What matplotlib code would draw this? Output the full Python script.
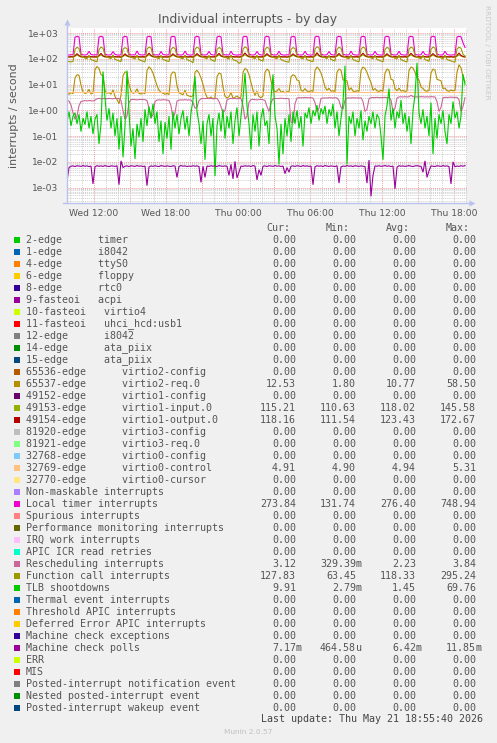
import matplotlib
matplotlib.use("Agg")
import matplotlib.pyplot as plt
import matplotlib.dates as mdates
import matplotlib.ticker as mticker
from matplotlib.patches import Rectangle
import numpy as np
import pandas as pd

# sample times: every 10 minutes, Wed 09:45 -> Thu 18:55
times = pd.date_range("2026-05-20 09:45", periods=200, freq="10min")

# series (interrupts / second)
virtio2_req = [
    4.6, 4.2, 4.9, 4.4, 18.0, 24.0, 23.0, 9.5, 5.2, 4.5,
    4.8, 6.5, 4.3, 4.7, 38.0, 50.0, 42.0, 24.0, 22.0, 6.0,
    4.6, 4.9, 4.2, 6.2, 3.5, 2.6, 1.8, 3.8, 22.0, 31.0,
    29.0, 10.0, 5.5, 4.6, 4.9, 6.8, 4.5, 4.3, 4.8, 4.4,
    35.0, 49.0, 40.0, 28.0, 16.0, 9.0, 6.0, 5.0, 4.6, 4.2,
    4.5, 4.1, 24.0, 31.0, 29.0, 9.0, 4.8, 4.4, 4.0, 6.0,
    3.9, 3.6, 3.4, 3.7, 30.0, 36.0, 28.0, 18.0, 10.0, 5.0,
    3.2, 2.9, 3.3, 2.8, 3.1, 20.0, 28.0, 26.0, 8.0, 3.5,
    3.0, 3.4, 5.0, 2.9, 3.2, 3.6, 3.0, 3.3, 30.0, 42.0,
    38.0, 24.0, 12.0, 6.0, 3.8, 5.5, 3.4, 3.1, 3.6, 30.0,
    40.0, 34.0, 14.0, 6.5, 5.2, 5.6, 7.0, 5.0, 5.4, 4.8,
    5.3, 5.1, 20.0, 24.0, 22.0, 15.0, 14.0, 6.0, 5.5, 7.0,
    5.6, 5.2, 5.8, 5.4, 35.0, 48.0, 40.0, 28.0, 16.0, 8.0,
    6.0, 7.2, 5.5, 5.8, 5.3, 30.0, 40.0, 36.0, 15.0, 15.0,
    14.0, 6.0, 7.5, 5.6, 5.2, 5.8, 5.4, 35.0, 48.0, 42.0,
    30.0, 18.0, 12.0, 6.0, 7.0, 5.7, 5.4, 6.0, 5.5, 28.0,
    40.0, 36.0, 16.0, 15.0, 7.0, 5.8, 7.2, 5.6, 5.9, 5.4,
    5.7, 35.0, 48.0, 44.0, 30.0, 18.0, 15.0, 8.0, 7.0, 5.8,
    5.5, 6.0, 28.0, 40.0, 36.0, 16.0, 15.0, 14.0, 7.0, 7.3,
    5.8, 5.5, 6.1, 5.7, 5.9, 30.0, 58.5, 45.0, 20.0, 12.53,
]
virtio1_input = [
    117, 115, 118, 116, 125, 139, 126, 117, 115, 116,
    114, 119, 117, 115, 116, 114, 126, 142, 124, 117,
    115, 116, 114, 118, 117, 115, 116, 112, 124, 137,
    125, 118, 115, 117, 114, 119, 116, 115, 117, 114,
    126, 145, 127, 118, 116, 114, 117, 119, 115, 116,
    114, 117, 124, 138, 125, 117, 115, 116, 114, 119,
    116, 115, 117, 111, 125, 140, 126, 118, 115, 117,
    114, 118, 116, 115, 117, 125, 143, 124, 117, 115,
    116, 114, 119, 117, 115, 116, 114, 117, 127, 145,
    127, 118, 115, 117, 114, 118, 116, 115, 117, 124,
    139, 125, 117, 115, 116, 114, 119, 117, 115, 116,
    114, 117, 124, 137, 126, 118, 115, 117, 114, 118,
    116, 115, 117, 114, 126, 145, 127, 118, 115, 116,
    114, 119, 117, 115, 116, 125, 141, 124, 117, 115,
    117, 114, 118, 116, 115, 117, 114, 127, 144, 126,
    118, 115, 116, 114, 119, 117, 115, 116, 114, 124,
    139, 125, 117, 115, 117, 114, 118, 116, 115, 117,
    114, 126, 143, 127, 118, 115, 116, 114, 119, 117,
    115, 116, 125, 140, 126, 117, 115, 117, 114, 118,
    116, 115, 117, 114, 116, 125, 142, 127, 119, 115.21,
]
virtio1_output = [
    120, 118, 121, 119, 132, 158, 134, 122, 119, 120,
    118, 124, 121, 119, 120, 118, 133, 162, 131, 121,
    119, 120, 118, 123, 121, 119, 120, 118, 130, 155,
    133, 122, 119, 121, 118, 124, 120, 119, 121, 118,
    134, 165, 135, 122, 120, 118, 121, 123, 119, 120,
    118, 121, 131, 157, 133, 121, 119, 120, 118, 124,
    120, 119, 121, 118, 132, 160, 134, 122, 119, 121,
    118, 123, 120, 119, 121, 133, 163, 132, 121, 119,
    120, 118, 124, 121, 119, 120, 118, 121, 135, 168,
    136, 122, 119, 121, 118, 123, 120, 119, 121, 132,
    159, 133, 121, 119, 120, 118, 124, 121, 119, 120,
    118, 121, 131, 156, 134, 122, 119, 121, 118, 123,
    120, 119, 121, 118, 134, 172, 136, 122, 119, 120,
    118, 124, 121, 119, 120, 133, 161, 132, 121, 119,
    121, 118, 123, 120, 119, 121, 118, 135, 166, 134,
    122, 119, 120, 118, 124, 121, 119, 120, 118, 132,
    158, 133, 121, 119, 121, 118, 123, 120, 119, 121,
    118, 134, 164, 135, 122, 119, 120, 118, 124, 121,
    119, 120, 133, 160, 134, 121, 119, 121, 118, 123,
    120, 119, 121, 118, 120, 133, 167, 135, 124, 118.16,
]
virtio0_control = [
    4.92, 4.93, 4.91, 4.94, 4.92, 4.95, 4.93, 4.91, 4.92, 4.94,
    4.93, 4.92, 4.95, 4.91, 4.93, 4.94, 4.92, 4.93, 4.91, 4.95,
    4.92, 4.94, 4.93, 4.91, 4.92, 5.31, 4.96, 4.93, 4.92, 4.94,
    4.91, 4.93, 4.92, 4.95, 4.93, 4.91, 4.94, 4.92, 4.93, 4.91,
    4.94, 4.92, 4.93, 4.95, 4.91, 4.92, 4.94, 4.93, 4.91, 4.92,
    4.93, 4.95, 4.92, 4.91, 4.94, 4.93, 4.92, 4.91, 4.93, 4.95,
    4.92, 4.94, 4.91, 4.93, 4.92, 4.95, 4.93, 4.92, 4.94, 4.91,
    4.93, 4.92, 4.95, 4.91, 4.94, 4.93, 4.92, 4.94, 4.91, 4.93,
    4.92, 4.94, 4.93, 4.91, 4.95, 4.92, 4.93, 4.91, 4.94, 4.92,
    4.95, 4.93, 4.92, 4.94, 4.91, 4.93, 4.92, 4.95, 4.93, 4.91,
    4.94, 4.92, 4.93, 4.91, 4.95, 4.92, 4.94, 4.93, 4.91, 4.92,
    4.93, 4.95, 4.92, 4.94, 4.91, 4.93, 4.92, 4.94, 4.95, 4.93,
    4.91, 4.92, 4.94, 4.93, 4.95, 4.92, 4.91, 4.93, 4.94, 4.92,
    4.93, 4.91, 4.92, 4.95, 4.93, 4.94, 4.92, 4.91, 4.93, 4.95,
    4.92, 4.94, 4.93, 4.91, 4.92, 4.95, 4.93, 4.94, 4.92, 4.91,
    4.93, 4.92, 4.95, 4.94, 4.91, 4.93, 4.92, 4.94, 4.93, 4.95,
    4.91, 4.93, 4.92, 4.94, 4.95, 4.92, 4.93, 4.91, 4.94, 4.92,
    4.93, 4.95, 4.91, 4.92, 4.94, 4.93, 4.92, 4.95, 4.91, 4.93,
    4.92, 4.94, 4.93, 4.91, 4.95, 4.92, 4.94, 4.93, 4.92, 4.91,
    4.93, 4.92, 4.94, 4.95, 4.91, 4.93, 4.92, 4.94, 4.92, 4.91,
]
local_timer = [
    142, 140, 144, 141, 690, 735, 710, 150, 143, 140,
    145, 195, 146, 141, 143, 140, 700, 740, 705, 152,
    142, 140, 144, 190, 147, 141, 139, 143, 695, 738,
    712, 150, 141, 143, 140, 200, 145, 142, 140, 144,
    700, 745, 715, 148, 141, 143, 139, 192, 146, 142,
    140, 143, 705, 740, 708, 151, 142, 140, 144, 198,
    146, 141, 139, 143, 698, 742, 710, 149, 142, 140,
    144, 194, 146, 141, 140, 700, 748, 712, 150, 141,
    143, 140, 196, 147, 142, 139, 143, 141, 702, 744,
    714, 151, 142, 140, 144, 193, 146, 141, 139, 700,
    745, 709, 150, 142, 140, 143, 197, 146, 141, 139,
    143, 140, 698, 741, 711, 149, 142, 140, 144, 195,
    146, 141, 139, 143, 703, 746, 713, 151, 142, 140,
    144, 192, 146, 141, 140, 700, 743, 710, 150, 142,
    140, 143, 198, 147, 141, 139, 143, 699, 747, 712,
    150, 142, 140, 144, 194, 146, 141, 139, 143, 701,
    744, 709, 151, 142, 140, 143, 196, 146, 141, 139,
    143, 702, 745, 711, 150, 142, 140, 144, 193, 146,
    141, 139, 700, 748, 714, 151, 142, 140, 143, 197,
    146, 141, 139, 143, 140, 702, 745, 712, 420, 273.84,
]
rescheduling = [
    2.4, 2.3, 1.6, 0.8, 0.45, 0.6, 1.5, 2.2, 2.3, 2.4,
    2.3, 2.4, 2.35, 2.3, 2.5, 2.8, 2.9, 2.8, 2.85, 2.9,
    2.8, 2.9, 2.85, 2.8, 2.9, 2.85, 2.9, 2.4, 1.0, 0.45,
    0.6, 2.0, 2.6, 2.65, 2.6, 2.55, 2.6, 2.65, 2.6, 2.6,
    2.4, 1.2, 0.5, 0.7, 2.2, 2.5, 2.55, 2.5, 2.6, 2.55,
    2.5, 2.4, 1.5, 0.5, 0.8, 2.3, 2.5, 2.55, 2.5, 2.6,
    2.5, 2.55, 2.5, 2.0, 1.2, 1.3, 2.4, 2.8, 2.9, 2.85,
    2.9, 2.85, 2.9, 2.8, 2.85, 2.9, 2.2, 1.4, 0.8, 1.0,
    2.5, 2.8, 2.9, 2.85, 2.9, 2.8, 2.85, 2.9, 1.5, 0.45,
    0.6, 2.1, 2.6, 2.65, 2.6, 2.55, 2.6, 2.65, 2.6, 2.4,
    1.4, 0.9, 2.0, 2.8, 2.9, 2.85, 2.9, 2.95, 2.9, 2.85,
    2.9, 2.8, 0.35, 0.33, 1.8, 3.0, 3.1, 3.05, 3.1, 3.15,
    3.1, 3.05, 3.1, 3.0, 2.0, 0.9, 1.2, 2.9, 3.0, 3.05,
    3.0, 3.1, 3.05, 3.0, 3.1, 3.0, 2.4, 1.3, 1.1, 2.5,
    3.0, 3.05, 3.0, 3.1, 3.0, 3.05, 3.0, 3.1, 2.2, 0.9,
    1.1, 2.8, 3.1, 3.15, 3.1, 3.2, 3.1, 3.15, 3.1, 3.2,
    3.1, 3.15, 2.5, 0.9, 1.2, 3.0, 3.3, 3.35, 3.3, 3.4,
    3.3, 3.35, 3.84, 3.4, 3.3, 3.35, 3.3, 3.4, 3.35, 3.3,
    3.35, 3.3, 3.4, 3.35, 3.3, 2.2, 0.9, 1.3, 3.1, 3.2,
    3.15, 3.2, 3.25, 3.2, 3.15, 3.2, 2.6, 0.9, 1.4, 3.12,
]
function_call = [
    80, 78, 76, 79, 232, 278, 252, 132, 117, 106,
    99, 138, 93, 87, 81, 76, 228, 282, 258, 136,
    119, 108, 101, 142, 95, 89, 83, 77, 235, 270,
    250, 130, 116, 107, 98, 139, 92, 86, 80, 75,
    240, 285, 262, 134, 118, 109, 100, 137, 94, 88,
    82, 78, 229, 276, 254, 131, 117, 105, 99, 141,
    93, 86, 80, 70, 236, 280, 257, 133, 118, 107,
    100, 136, 92, 85, 79, 231, 274, 249, 130, 116,
    106, 98, 140, 93, 87, 81, 66, 74, 238, 289,
    260, 135, 119, 108, 100, 138, 94, 88, 80, 233,
    279, 255, 132, 117, 107, 99, 143, 93, 86, 80,
    76, 74, 230, 272, 251, 131, 118, 106, 99, 139,
    92, 87, 81, 77, 239, 295, 263, 136, 120, 109,
    101, 137, 94, 88, 82, 234, 281, 256, 133, 117,
    106, 99, 142, 93, 86, 80, 76, 237, 284, 259,
    134, 118, 108, 100, 138, 94, 88, 81, 76, 231,
    277, 253, 131, 116, 105, 98, 141, 92, 85, 79,
    75, 236, 283, 258, 134, 119, 107, 100, 137, 93,
    87, 80, 233, 286, 261, 135, 118, 108, 99, 140,
    94, 88, 82, 77, 74, 238, 282, 255, 150, 127.83,
]
tlb_shootdowns = [
    0.35, 0.9, 0.25, 0.6, 0.8, 0.3, 0.7, 0.15, 0.5, 0.28,
    0.9, 0.2, 0.6, 0.12, 0.45, 0.7, 0.05, 0.3, 32.0, 3.0,
    0.4, 1.2, 0.2, 0.8, 0.1, 0.5, 0.03, 0.6, 0.015, 0.25,
    35.0, 0.9, 0.04, 0.2, 0.013, 0.3, 0.09, 0.5, 0.06, 1.1,
    0.25, 1.4, 0.5, 1.8, 0.3, 0.9, 0.06, 0.4, 0.02, 0.35,
    0.08, 0.6, 0.03, 0.9, 0.2, 0.7, 0.12, 0.5, 1.0, 0.18,
    0.6, 0.1, 0.8, 2.5, 21.0, 0.9, 0.3, 0.05, 0.4, 0.012,
    0.3, 0.7, 0.1, 0.5, 0.0028, 0.25, 0.8, 0.15, 1.1, 0.08,
    0.6, 0.2, 0.9, 0.05, 0.4, 1.3, 0.1, 0.6, 3.0, 28.0,
    1.5, 0.3, 0.03, 0.7, 0.15, 0.9, 0.04, 0.5, 1.2, 0.25,
    0.4, 0.05, 3.0, 25.0, 0.6, 0.2, 0.008, 0.3, 0.02, 0.5,
    0.1, 0.7, 0.06, 0.9, 0.3, 1.0, 0.2, 0.6, 0.04, 0.8,
    0.5, 1.3, 0.3, 1.0, 0.6, 1.6, 0.4, 1.2, 0.7, 1.5,
    0.3, 1.1, 0.6, 1.8, 0.2, 0.9, 0.1, 0.5, 2.0, 54.0,
    0.008, 0.6, 0.3, 0.9, 0.1, 0.5, 0.2, 1.0, 0.07, 0.4,
    0.15, 0.6, 0.3, 0.9, 0.2, 0.7, 0.5, 0.1, 0.012, 0.6,
    1.5, 7.0, 0.4, 1.2, 0.2, 0.9, 0.5, 2.5, 0.3, 0.8,
    0.15, 0.6, 0.05, 1.0, 4.0, 69.76, 0.8, 0.3, 1.1, 0.2,
    0.6, 0.1, 2.0, 0.02, 0.5, 0.08, 0.7, 0.3, 1.0, 0.15,
    0.05, 0.7, 0.3, 2.2, 0.5, 0.9, 0.2, 0.6, 25.0, 9.91,
]
machine_check_polls = [
    0.0018, 0.0060, 0.0068, 0.0070, 0.0066, 0.0071, 0.0069, 0.0067, 0.0072, 0.0068,
    0.0070, 0.0066, 0.0069, 0.0014, 0.0065, 0.0071, 0.0068, 0.0070, 0.0067, 0.0072,
    0.0068, 0.0066, 0.0070, 0.0069, 0.0067, 0.0071, 0.0013, 0.0110, 0.0060, 0.0068,
    0.0070, 0.0066, 0.0071, 0.0069, 0.0067, 0.0072, 0.0068, 0.0070, 0.0066, 0.0069,
    0.0012, 0.0064, 0.0070, 0.0067, 0.0071, 0.0068, 0.0066, 0.0072, 0.0069, 0.0067,
    0.0070, 0.0068, 0.0066, 0.0071, 0.0069, 0.0025, 0.0067, 0.0072, 0.0068, 0.0070,
    0.0066, 0.0069, 0.0067, 0.0071, 0.0068, 0.0070, 0.0066, 0.0016, 0.0068, 0.0025,
    0.0069, 0.0067, 0.0071, 0.0068, 0.0070, 0.0066, 0.0072, 0.0069, 0.0067, 0.0070,
    0.0068, 0.0030, 0.0080, 0.0022, 0.0105, 0.0024, 0.0040, 0.0069, 0.0067, 0.0071,
    0.0068, 0.0070, 0.0066, 0.0072, 0.0069, 0.0020, 0.0050, 0.0030, 0.0068, 0.0070,
    0.0066, 0.0071, 0.0069, 0.0067, 0.0072, 0.0068, 0.0070, 0.0066, 0.0069, 0.0035,
    0.0060, 0.0040, 0.0068, 0.0070, 0.0067, 0.0071, 0.0069, 0.0066, 0.0072, 0.0068,
    0.0070, 0.0067, 0.0069, 0.0013, 0.0065, 0.0071, 0.0068, 0.0070, 0.0066, 0.0072,
    0.0069, 0.0067, 0.0070, 0.0068, 0.0066, 0.0071, 0.0015, 0.0064, 0.0069, 0.0067,
    0.0072, 0.0068, 0.0070, 0.0066, 0.0071, 0.0069, 0.0067, 0.0070, 0.0068, 0.0066,
    0.0015, 0.0118, 0.00046, 0.0030, 0.0070, 0.0068, 0.0071, 0.0067, 0.0069, 0.0072,
    0.0068, 0.0070, 0.0066, 0.0069, 0.0009, 0.0062, 0.0071, 0.0068, 0.0070, 0.0067,
    0.0069, 0.0072, 0.0068, 0.0066, 0.0070, 0.0071, 0.0069, 0.0067, 0.0040, 0.0110,
    0.0025, 0.0045, 0.0070, 0.0068, 0.0066, 0.0071, 0.0069, 0.0067, 0.0072, 0.0068,
    0.0070, 0.0066, 0.0014, 0.0100, 0.0065, 0.0069, 0.0067, 0.0071, 0.0068, 0.00717,
]

# legend table
labels = [
    "2-edge      timer", "1-edge      i8042", "4-edge      ttyS0", "6-edge      floppy",
    "8-edge      rtc0", "9-fasteoi   acpi", "10-fasteoi   virtio4", "11-fasteoi   uhci_hcd:usb1",
    "12-edge      i8042", "14-edge      ata_piix", "15-edge      ata_piix",
    "65536-edge      virtio2-config", "65537-edge      virtio2-req.0",
    "49152-edge      virtio1-config", "49153-edge      virtio1-input.0",
    "49154-edge      virtio1-output.0", "81920-edge      virtio3-config",
    "81921-edge      virtio3-req.0", "32768-edge      virtio0-config",
    "32769-edge      virtio0-control", "32770-edge      virtio0-cursor",
    "Non-maskable interrupts", "Local timer interrupts", "Spurious interrupts",
    "Performance monitoring interrupts", "IRQ work interrupts", "APIC ICR read retries",
    "Rescheduling interrupts", "Function call interrupts", "TLB shootdowns",
    "Thermal event interrupts", "Threshold APIC interrupts", "Deferred Error APIC interrupts",
    "Machine check exceptions", "Machine check polls", "ERR", "MIS",
    "Posted-interrupt notification event", "Nested posted-interrupt event",
    "Posted-interrupt wakeup event",
]
colors = [
    "#00CC00", "#0066B3", "#FF8000", "#FFCC00", "#330099", "#990099", "#CCFF00", "#FF0000",
    "#808080", "#008F00", "#00487D", "#B35A00", "#B38F00", "#6B006B", "#8FB300", "#B30000",
    "#BEBEBE", "#80FF80", "#80C9FF", "#FFC080", "#FFE680", "#AA80FF", "#EE00CC", "#FF8080",
    "#666600", "#FFBFFF", "#00FFCC", "#CC6699", "#999900", "#00CC00", "#0066B3", "#FF8000",
    "#FFCC00", "#330099", "#990099", "#CCFF00", "#FF0000", "#808080", "#008F00", "#00487D",
]
cur_vals = [0] * 40
min_vals = [0] * 40
avg_vals = [0] * 40
max_vals = [0] * 40
stats = {
    12: (12.53, 1.80, 10.77, 58.50),
    14: (115.21, 110.63, 118.02, 145.58),
    15: (118.16, 111.54, 123.43, 172.67),
    19: (4.91, 4.90, 4.94, 5.31),
    22: (273.84, 131.74, 276.40, 748.94),
    27: (3.12, 0.32939, 2.23, 3.84),
    28: (127.83, 63.45, 118.33, 295.24),
    29: (9.91, 0.00279, 1.45, 69.76),
    34: (0.00717, 0.00046458, 0.00642, 0.01185),
}
for i, (c, mn, av, mx) in stats.items():
    cur_vals[i], min_vals[i], avg_vals[i], max_vals[i] = c, mn, av, mx

# which series get a line, in munin's drawing order
plotted = [
    (12, virtio2_req), (14, virtio1_input), (15, virtio1_output), (19, virtio0_control),
    (22, local_timer), (27, rescheduling), (28, function_call), (29, tlb_shootdowns),
    (34, machine_check_polls),
]

W, H = 497, 743
TXT = "#555555"
MONO = "DejaVu Sans Mono"


def fx(x):
    return x / W


def fy(y):
    return 1 - y / H


def si(v):
    if v == 0:
        return "0.00", ""
    for f, p in ((1, ""), (1e-3, "m"), (1e-6, "u")):
        if abs(v) >= f:
            return f"{v / f:.2f}", p
    return f"{v:.2f}", ""


fig = plt.figure(figsize=(W / 100, H / 100), dpi=100, facecolor="#F0F0F0")
ax = fig.add_axes([fx(67), fy(203), 400 / W, 175 / H])
ax.set_facecolor("white")

for idx, vals in plotted:
    ax.plot(times, vals, color=colors[idx], lw=0.8, solid_joinstyle="miter")

ax.set_yscale("log")
ax.set_ylim(10 ** -3.595, 10 ** 3.194)
ax.set_xlim(pd.Timestamp("2026-05-20 09:45"), pd.Timestamp("2026-05-21 19:05"))

ax.xaxis.set_major_locator(mdates.HourLocator(byhour=range(0, 24, 3)))
ax.xaxis.set_minor_locator(mdates.HourLocator())


def xfmt(v, pos):
    d = mdates.num2date(v)
    return d.strftime("%a %H:%M") if d.hour % 6 == 0 else ""


ax.xaxis.set_major_formatter(mticker.FuncFormatter(xfmt))
ax.yaxis.set_major_locator(mticker.LogLocator(base=10, numticks=20))
ax.yaxis.set_minor_locator(mticker.LogLocator(base=10, subs=np.arange(2, 10), numticks=20))
ax.yaxis.set_minor_formatter(mticker.NullFormatter())
ax.yaxis.set_major_formatter(mticker.FuncFormatter(lambda v, p: f"{v:.0e}"))

ax.tick_params(which="both", length=0, colors=TXT, labelsize=6.6)
ax.tick_params(axis="y", pad=6)
ax.tick_params(axis="x", pad=4)
ax.set_axisbelow(True)
ax.grid(which="major", color="#F0A0A0", linestyle=(0, (1, 1)), lw=0.7)
ax.grid(which="minor", color="#D0D0D0", linestyle=(0, (1, 1)), lw=0.7)
for s in ax.spines.values():
    s.set_visible(False)

# axis lines with arrows
axc = "#B8C2EC"
ax.plot([-0.01, 1.0075], [0, 0], color=axc, lw=1, transform=ax.transAxes, clip_on=False)
ax.plot([0, 0], [0, 1.03], color=axc, lw=1, transform=ax.transAxes, clip_on=False)
ax.plot([1.0125], [0], marker=">", ms=4, color=axc, mec="none", transform=ax.transAxes, clip_on=False)
ax.plot([0], [1.035], marker="^", ms=4, color=axc, mec="none", transform=ax.transAxes, clip_on=False)

ax.set_ylabel("interrupts / second", fontsize=7.9, color=TXT, labelpad=6)
fig.text(fx(248), fy(19), "Individual interrupts - by day", ha="center", va="center",
         fontsize=8.9, color=TXT)
fig.text(fx(487), fy(52), "RRDTOOL / TOBI OETIKER", rotation=270, ha="center", va="center",
         fontsize=5.3, color="#C8C8C8")

# legend
fs = 7.2
for xr, head in zip((290, 350, 410, 470), ("Cur:", "Min:", "Avg:", "Max:")):
    fig.text(fx(xr), fy(228), head, ha="right", va="center", fontsize=fs,
             family=MONO, color=TXT)

for i, lab in enumerate(labels):
    y = 240 + 12 * i
    fig.patches.append(Rectangle((fx(14), fy(y + 3)), 6 / W, 6 / H,
                                 transform=fig.transFigure, facecolor=colors[i],
                                 edgecolor="none"))
    fig.text(fx(26), fy(y), lab, ha="left", va="center", fontsize=fs, family=MONO, color=TXT)
    for xr, v in zip((296, 356, 416, 476), (cur_vals[i], min_vals[i], avg_vals[i], max_vals[i])):
        num, suf = si(v)
        fig.text(fx(xr), fy(y), num, ha="right", va="center", fontsize=fs,
                 family=MONO, color=TXT)
        if suf:
            fig.text(fx(xr), fy(y), suf, ha="left", va="center", fontsize=fs,
                     family=MONO, color=TXT)

fig.text(fx(483), fy(719), "Last update: Thu May 21 18:55:40 2026", ha="right", va="center",
         fontsize=fs, family=MONO, color="#444444")
fig.text(fx(248), fy(732), "Munin 2.0.57", ha="center", va="center", fontsize=5.3,
         color="#C0C0C0")

fig.savefig("out.png", dpi=100, facecolor=fig.get_facecolor())
